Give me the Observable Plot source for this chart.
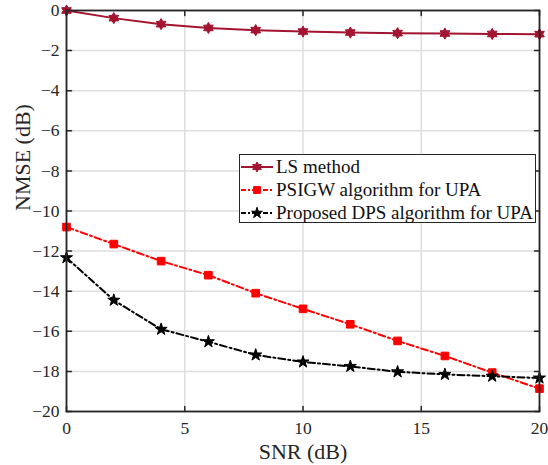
<!DOCTYPE html>
<html><head><meta charset="utf-8">
<script src="https://cdn.jsdelivr.net/npm/d3@7"></script>
<script src="https://cdn.jsdelivr.net/npm/@observablehq/plot@0.6"></script>
<style>
body{margin:0;background:#fff;}
#wrap{position:relative;width:548px;height:465px;font-family:"Liberation Serif","Times New Roman",serif;}
#legend{position:absolute;left:239px;top:154px;width:295px;height:67px;border:1.5px solid #262626;background:#fff;}
.row{position:absolute;left:0;height:22px;display:flex;align-items:center;font-size:19px;color:#111;white-space:nowrap;}
.row svg{margin-left:1px;margin-right:3px;}
</style></head><body><div id="wrap"><div id="legend"></div></div>
<script>
const snr = [0, 2, 4, 6, 8, 10, 12, 14, 16, 18, 20];
const lsNmse = [0, -0.38, -0.68, -0.87, -0.98, -1.05, -1.1, -1.13, -1.15, -1.17, -1.18];
const psigwNmse = [-10.8, -11.65, -12.5, -13.2, -14.1, -14.88, -15.65, -16.48, -17.23, -18.06, -18.86];
const dpsNmse = [-12.33, -14.45, -15.9, -16.52, -17.18, -17.53, -17.75, -18.02, -18.15, -18.24, -18.33];
const xTicks = [0, 5, 10, 15, 20];
const yTicks = [0, -2, -4, -6, -8, -10, -12, -14, -16, -18, -20];
const seriesNames = ["LS method", "PSIGW algorithm for UPA", "Proposed DPS algorithm for UPA"];
const seriesColors = ["#A2142F", "#FF0000", "#000000"];
const seriesValues = [lsNmse, psigwNmse, dpsNmse];

const hexagram = {
  draw(ctx, size) {
    const R = Math.sqrt(size / Math.PI) * 1.55, r = R / Math.sqrt(3);
    for (let i = 0; i < 12; i++) {
      const a = Math.PI / 6 * i - Math.PI / 2;
      const rr = i % 2 ? r : R;
      const x = rr * Math.cos(a), y = rr * Math.sin(a);
      i ? ctx.lineTo(x, y) : ctx.moveTo(x, y);
    }
    ctx.closePath();
  }
};
const symbols = [hexagram, d3.symbolSquare, d3.symbolStar];
const symR = [3.6, 4.3, 3.8];
const dashes = [null, "7,3,2,3", "7,3,2,3"];

const rows = [];
seriesValues.forEach((vals, s) => snr.forEach((x, i) => rows.push({x, y: vals[i], s})));

const tickShape = {draw(ctx, l) { ctx.moveTo(0, 0); ctx.lineTo(0, -l); }};
const ink = "#262626";

const marks = [
  Plot.gridX(xTicks, {stroke: "#dedede", strokeOpacity: 1, strokeWidth: 1.5}),
  Plot.gridY(yTicks, {stroke: "#dedede", strokeOpacity: 1, strokeWidth: 1.5}),
  Plot.axisX(xTicks, {tickSize: 0, tickPadding: 10, fontSize: 17.5, label: null, fill: ink}),
  Plot.axisY(yTicks, {tickSize: 0, tickPadding: 7, fontSize: 17.5, label: null, fill: ink}),
  Plot.vector(xTicks, {x: d => d, frameAnchor: "bottom", length: 5, rotate: 0, anchor: "start", shape: tickShape, stroke: ink, strokeWidth: 1.5}),
  Plot.vector(xTicks, {x: d => d, frameAnchor: "top", length: 5, rotate: 180, anchor: "start", shape: tickShape, stroke: ink, strokeWidth: 1.5}),
  Plot.vector(yTicks, {y: d => d, frameAnchor: "left", length: 5, rotate: 90, anchor: "start", shape: tickShape, stroke: ink, strokeWidth: 1.5}),
  Plot.vector(yTicks, {y: d => d, frameAnchor: "right", length: 5, rotate: -90, anchor: "start", shape: tickShape, stroke: ink, strokeWidth: 1.5}),
  Plot.text(["SNR (dB)"], {frameAnchor: "bottom", dy: 47, fontSize: 22, fill: ink}),
  Plot.text(["NMSE (dB)"], {frameAnchor: "left", dx: -44, rotate: -90, fontSize: 22, fill: ink}),
];
seriesValues.forEach((vals, s) => {
  const d = rows.filter(r => r.s === s);
  marks.push(Plot.line(d, {x: "x", y: "y", stroke: seriesColors[s], strokeWidth: 2, strokeDasharray: dashes[s]}));
  marks.push(Plot.dot(d, {x: "x", y: "y", symbol: () => symbols[s], r: symR[s], fill: seriesColors[s], stroke: seriesColors[s], strokeWidth: 1}));
});
marks.push(Plot.frame({stroke: ink, strokeWidth: 1.8}));

const chart = Plot.plot({
  width: 548, height: 465,
  marginLeft: 66, marginRight: 9, marginTop: 10, marginBottom: 54,
  style: {fontFamily: "'Liberation Serif','Times New Roman',serif", background: "#fff"},
  x: {domain: [0, 20]},
  y: {domain: [-20, 0]},
  symbol: {type: "identity"},
  marks
});
document.getElementById("wrap").prepend(chart);

const legend = document.getElementById("legend");
seriesNames.forEach((name, s) => {
  const row = document.createElement("div");
  row.className = "row";
  row.style.top = (1 + s * 23) + "px";
  const ns = "http://www.w3.org/2000/svg";
  const svg = document.createElementNS(ns, "svg");
  svg.setAttribute("width", 32); svg.setAttribute("height", 16);
  const ln = document.createElementNS(ns, "line");
  ln.setAttribute("x1", 0); ln.setAttribute("x2", 32); ln.setAttribute("y1", 8); ln.setAttribute("y2", 8);
  ln.setAttribute("stroke", seriesColors[s]); ln.setAttribute("stroke-width", 2);
  if (dashes[s]) ln.setAttribute("stroke-dasharray", "5,2,2,2");
  svg.appendChild(ln);
  const p = document.createElementNS(ns, "path");
  p.setAttribute("d", d3.symbol(symbols[s], Math.PI * symR[s] * symR[s] * 0.8)());
  p.setAttribute("transform", "translate(16,8)");
  p.setAttribute("fill", seriesColors[s]); p.setAttribute("stroke", seriesColors[s]);
  svg.appendChild(p);
  row.appendChild(svg);
  row.appendChild(document.createTextNode(name));
  legend.appendChild(row);
});
</script></body></html>
